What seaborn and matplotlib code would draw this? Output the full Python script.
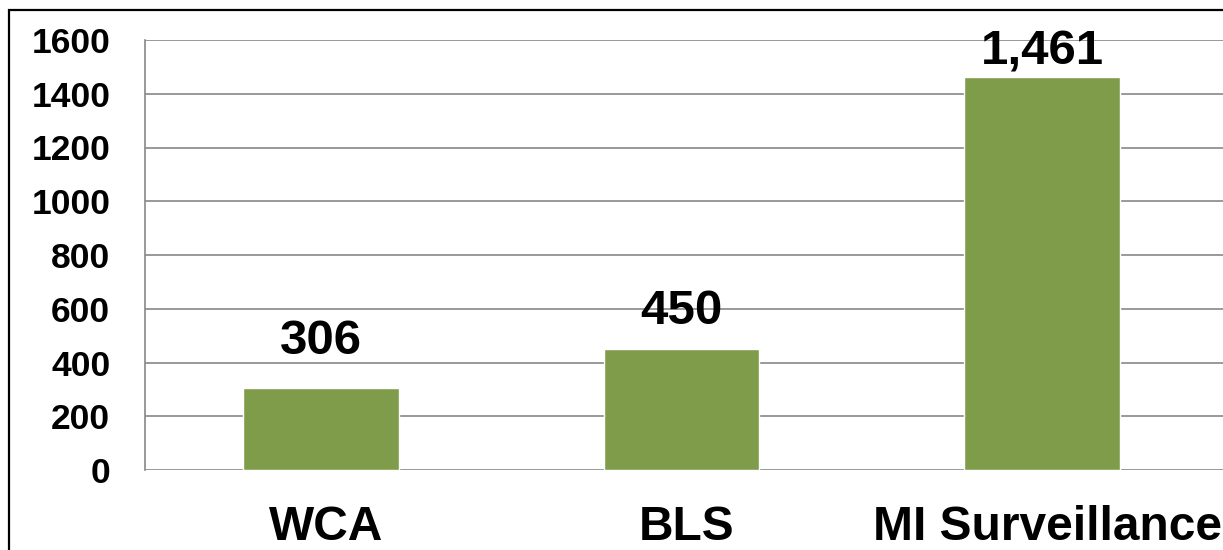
import matplotlib
matplotlib.use("Agg")
import matplotlib.pyplot as plt
from matplotlib.patches import Rectangle
from matplotlib.transforms import ScaledTranslation
import seaborn as sns
import pandas as pd

categories = ["WCA", "BLS", "MI Surveillance"]
counts = [306, 450, 1461]
y_ticks = [0, 200, 400, 600, 800, 1000, 1200, 1400, 1600]
label_offsets_pt = [24, 18, 9]

sns.set_style("white")
plt.rcParams["font.family"] = ["Liberation Sans", "DejaVu Sans"]
plt.rcParams["font.weight"] = "bold"

W, H, DPI = 1223, 550, 100
fig = plt.figure(figsize=(W / DPI, H / DPI), dpi=DPI)
fig.patch.set_facecolor("white")

# plot area in pixel terms, converted to figure fractions
left_px, right_px, top_px, bottom_px = 145, 1228, 40, 470
ax = fig.add_axes([left_px / W, (H - bottom_px) / H,
                   (right_px - left_px) / W, (bottom_px - top_px) / H])

df = pd.DataFrame({"category": categories, "count": counts})
sns.barplot(data=df, x="category", y="count", color="#7F9C4A",
            saturation=1, width=0.43, ax=ax, zorder=3)

# category spacing of ~360 px, first slot slightly narrower on the left
slot_px = 360.5
x0 = -(321 - left_px) / slot_px
ax.set_xlim(x0, x0 + (right_px - left_px) / slot_px)

grid_c = "#878787"
ax.set_ylim(0, 1600)
ax.set_yticks(y_ticks)
ax.set_yticklabels([str(v) for v in y_ticks])
ax.yaxis.grid(True, color=grid_c, linewidth=1.2, zorder=0)
ax.xaxis.grid(False)
ax.set_axisbelow(True)
for s in ["top", "right", "bottom"]:
    ax.spines[s].set_visible(False)
ax.spines["left"].set_color(grid_c)
ax.spines["left"].set_linewidth(1.2)

ax.tick_params(axis="y", direction="out", length=8, width=1.2, color=grid_c,
               pad=17, labelsize=25.5, labelcolor="black")
ax.tick_params(axis="x", length=0, pad=25.5, labelsize=34.5, labelcolor="black")
shift = ScaledTranslation(5 / DPI, 0, fig.dpi_scale_trans)
for t in ax.get_xticklabels():
    t.set_fontweight("bold")
    t.set_transform(t.get_transform() + shift)
for t in ax.get_yticklabels():
    t.set_fontweight("bold")
ax.set_xlabel("")
ax.set_ylabel("")

# value labels above each bar
for patch, val, off in zip(ax.patches, counts, label_offsets_pt):
    cx = patch.get_x() + patch.get_width() / 2
    ax.annotate(f"{val:,}", xy=(cx, val), xytext=(0, off),
                textcoords="offset points", ha="center", va="baseline",
                fontsize=35.5, fontweight="bold", color="black",
                annotation_clip=False, zorder=5)

# outer frame
fig.patches.append(Rectangle((8.5 / W, -0.1), 1.2, 1.1 - 10.5 / H,
                             transform=fig.transFigure, fill=False,
                             edgecolor="black", linewidth=1.6, zorder=10))

fig.savefig("out.png", dpi=DPI, facecolor="white")
